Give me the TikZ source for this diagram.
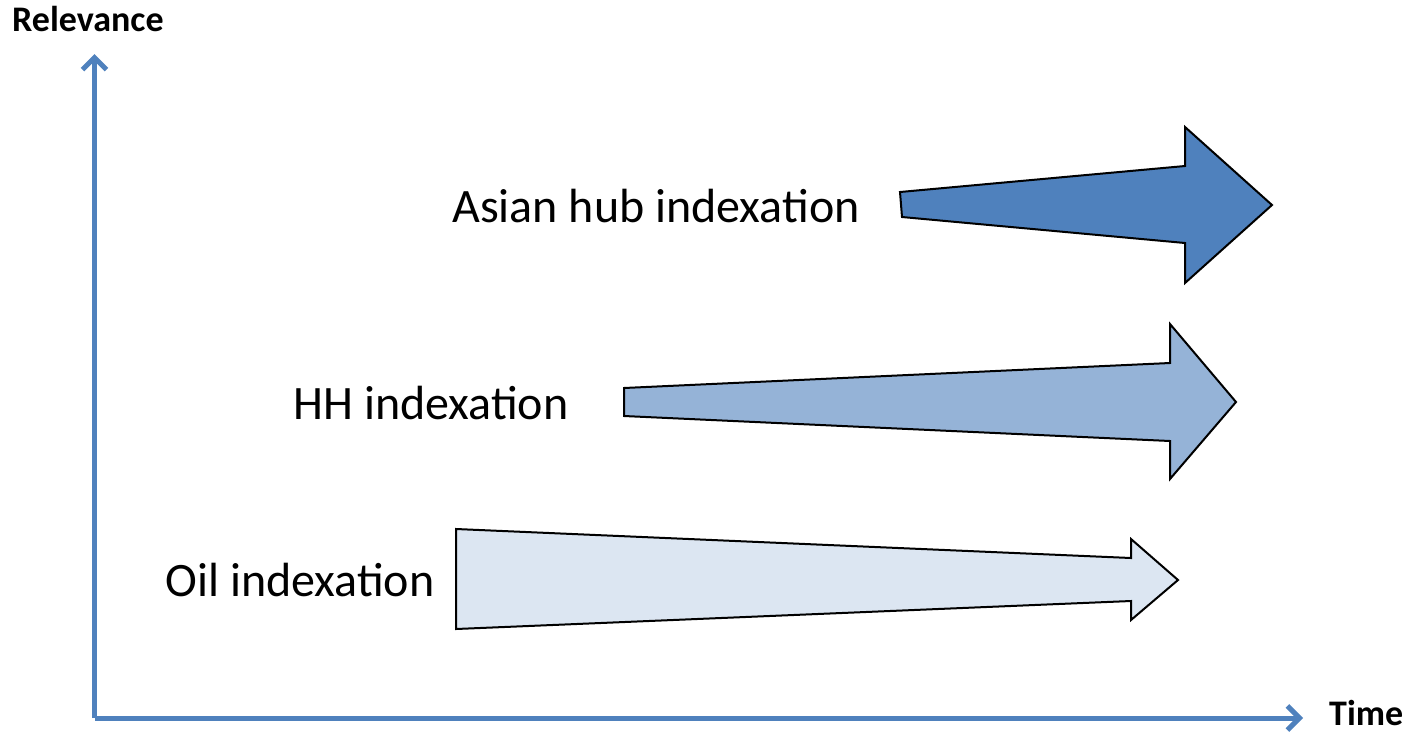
\documentclass[tikz,border=0pt]{standalone}
\usepackage{fontspec}
\setmainfont{Carlito}
\usetikzlibrary{arrows.meta}

\definecolor{axisblue}{HTML}{4F81BD}
\definecolor{darkfill}{HTML}{4F81BD}
\definecolor{midfill}{HTML}{95B3D7}
\definecolor{lightfill}{HTML}{DCE6F2}

\tikzset{
  axis/.style={line width=5pt,draw=axisblue,-{Straight Barb[length=12pt,width=24pt,line width=5pt]}},
  axislabel/.style={font=\fontsize{36}{42}\selectfont\bfseries,inner sep=0pt,anchor=base west},
  trend/.style={draw=black,line width=2pt,line join=miter},
  trendlabel/.style={font=\fontsize{48}{56}\selectfont,inner sep=0pt}
}

\begin{document}
\begin{tikzpicture}[x=1pt,y=-1pt]
\useasboundingbox (0,0) rectangle (1408,732);

% axes
\coordinate (origin) at (94.5,718);
\coordinate (ytop) at (94.5,54);
\coordinate (xend) at (1303,718);
\draw[axis] (origin) -- (ytop);
\draw[axis] (origin) -- (xend);
\node[axislabel] (relevance) at (12,31) {Relevance};
\node[axislabel] (time) at (1329,725) {Time};

% tapered arrows
\draw[trend,fill=lightfill] (456,529) -- (1131,558) -- (1131,539) -- (1178,580)
      -- (1131,620) -- (1131,601) -- (456,629) -- cycle;
\draw[trend,fill=midfill] (624,388) -- (1170,363) -- (1170,324) -- (1236,402)
      -- (1170,479) -- (1170,441) -- (624,416) -- cycle;
\draw[trend,fill=darkfill] (900,192) -- (1185,166) -- (1185,127) -- (1272,205)
      -- (1185,283) -- (1185,243) -- (902,217) -- cycle;

\node[trendlabel] (asian) at (656,206) {Asian hub indexation};
\node[trendlabel] (hh) at (431,403) {HH indexation};
\node[trendlabel] (oil) at (300,580) {Oil indexation};
\end{tikzpicture}
\end{document}
